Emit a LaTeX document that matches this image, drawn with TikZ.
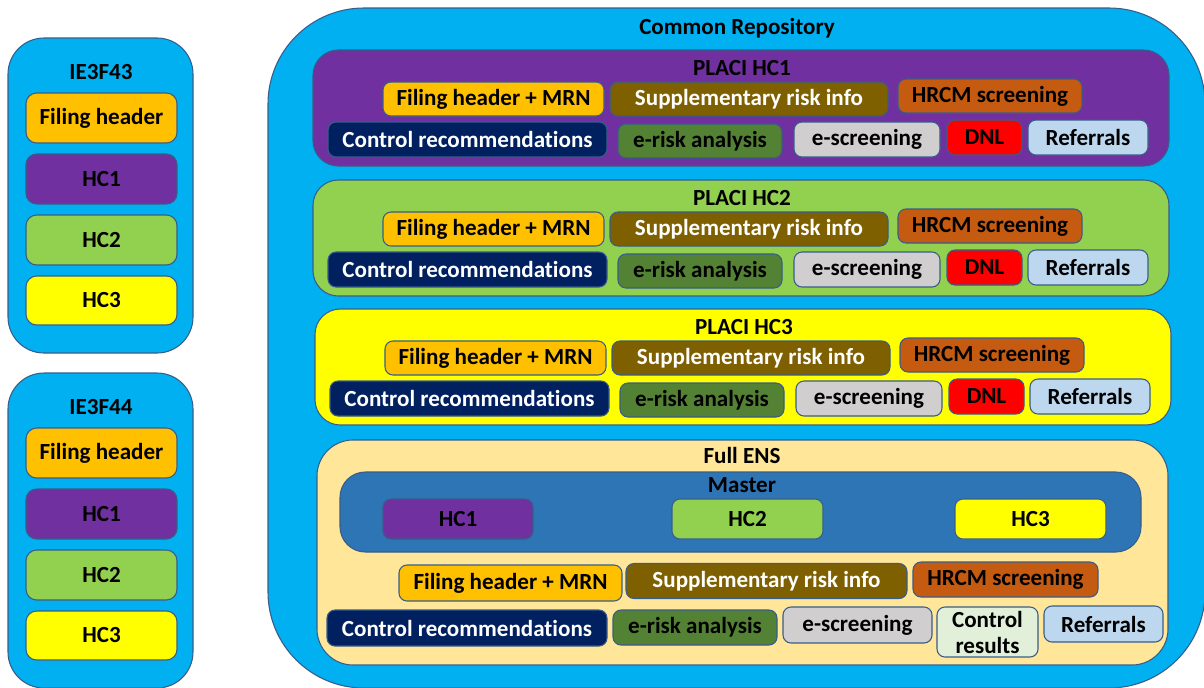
\documentclass[tikz,border=0pt]{standalone}
\usepackage{fontspec}
\setmainfont{Carlito}[Ligatures=NoCommon]
\usetikzlibrary{positioning}
\usepackage{xcolor}

\definecolor{repo}{HTML}{00B0F0}
\definecolor{edge}{HTML}{385D8A}
\definecolor{filing}{HTML}{FFC000}
\definecolor{hcone}{HTML}{7030A0}
\definecolor{hctwo}{HTML}{92D050}
\definecolor{hcthree}{HTML}{FFFF00}
\definecolor{supp}{HTML}{7F6000}
\definecolor{hrcm}{HTML}{C55A11}
\definecolor{ctrlrec}{HTML}{002060}
\definecolor{erisk}{HTML}{548235}
\definecolor{escr}{HTML}{D0CECE}
\definecolor{dnl}{HTML}{FF0000}
\definecolor{refer}{HTML}{BDD7EE}
\definecolor{ens}{HTML}{FFE699}
\definecolor{master}{HTML}{2E75B6}
\definecolor{ctrlres}{HTML}{E2F0D9}

\tikzset{
    sz/.style 2 args={minimum width=#1*0.75pt, minimum height=#2*0.75pt},
    box/.style={draw=edge, line width=0.8pt, rounded corners=6pt, inner sep=0pt,
        align=center, font=\fontsize{17.3}{19.5}\selectfont\bfseries, text=black},
    panel/.style={draw=edge, line width=0.8pt, rounded corners=19pt, inner sep=0pt},
    title/.style={inner sep=0pt, font=\fontsize{17.3}{19.5}\selectfont\bfseries, text=black}
}

\begin{document}
\begin{tikzpicture}[x=0.75pt, y=-0.75pt]
        \useasboundingbox (0,0) rectangle (1204,687);

        % the two ENS filings on the left
        \foreach \n/\dy in {43/0, 44/335}{
            \begin{scope}[shift={(0,\dy)}]
                \node[panel, rounded corners=27pt, fill=repo, sz={185}{315}] (ie\n) at (100.5,195.5) {};
                \node[title] (ie\n-t) at (101,72) {IE3F\n};
                \node[box, rounded corners=8pt, fill=filing, sz={151}{50}] (ie\n-fh) at (101.5,118) {Filing header};
                \node[box, rounded corners=8pt, fill=hcone, sz={151}{50}] (ie\n-hc1) at (101.5,179) {HC1};
                \node[box, rounded corners=8pt, fill=hctwo, sz={151}{50}] (ie\n-hc2) at (101.5,240) {HC2};
                \node[box, rounded corners=8pt, fill=hcthree, sz={151}{49}] (ie\n-hc3) at (101.5,300.5) {HC3};
            \end{scope}
        }

        \node[panel, rounded corners=72pt, fill=repo, sz={937}{680}] (repo) at (736.5,348) {};
        \node[title] (repo-t) at (737,28) {Common Repository};

        % one PLACI per house consignment
        \foreach \i/\col/\dx/\dy in {1/hcone/0/0, 2/hctwo/0/130, 3/hcthree/2/259}{
            \begin{scope}[shift={(\dx,\dy)}]
                \node[panel, fill=\col, sz={856}{116}] (placi\i) at (741,108) {};
                \node[title] (placi\i-t) at (742,68) {PLACI HC\i};
                \node[box, fill=filing, sz={221}{34}] (placi\i-fh) at (493.5,99) {Filing header + MRN};
                \node[box, fill=supp, text=white, sz={278}{34}] (placi\i-sup) at (749,99) {Supplementary risk info};
                \node[box, fill=hrcm, sz={184}{34}] (placi\i-hrcm) at (990,96) {HRCM screening};
                \node[box, fill=ctrlrec, text=white, sz={279}{35}] (placi\i-ctrl) at (467.5,139.5) {Control recommendations};
                \node[box, fill=erisk, sz={164}{34}] (placi\i-erisk) at (700,141) {e-risk analysis};
                \node[box, fill=escr, sz={146}{35}] (placi\i-escr) at (867,139.5) {e-screening};
                \node[box, fill=dnl, sz={75}{35}] (placi\i-dnl) at (984.5,137.5) {DNL};
                \node[box, fill=refer, sz={120}{35}] (placi\i-ref) at (1088,137.5) {Referrals};
            \end{scope}
        }

        \node[panel, rounded corners=27pt, fill=ens, sz={851}{225}] (ens) at (742.5,552.5) {};
        \node[title] (ens-t) at (742,455) {Full ENS};
        \node[panel, fill=master, sz={801}{80}] (master) at (740.5,512) {};
        \node[title] (master-t) at (742,485) {Master};
        \node[box, fill=hcone, sz={150}{40}] (m-hc1) at (458,519) {HC1};
        \node[box, fill=hctwo, sz={151}{40}] (m-hc2) at (747.5,519) {HC2};
        \node[box, fill=hcthree, sz={151}{40}] (m-hc3) at (1030.5,519) {HC3};

        \node[box, fill=filing, sz={223}{36}] (ens-fh) at (510.5,583) {Filing header + MRN};
        \node[box, fill=supp, text=white, sz={281}{35}] (ens-sup) at (766.5,581) {Supplementary risk info};
        \node[box, fill=hrcm, sz={185}{35}] (ens-hrcm) at (1005.5,579.5) {HRCM screening};
        \node[box, fill=ctrlrec, text=white, sz={280}{36}] (ens-ctrl) at (467,628) {Control recommendations};
        \node[box, fill=erisk, sz={164}{35}] (ens-erisk) at (695,627.5) {e-risk analysis};
        \node[box, fill=escr, sz={149}{36}] (ens-escr) at (857.5,625) {e-screening};
        \node[box, fill=ctrlres, sz={101}{50}] (ens-res) at (987.5,632) {Control\\results};
        \node[box, fill=refer, sz={119}{36}] (ens-ref) at (1103.5,624) {Referrals};
    \end{tikzpicture}
\end{document}
